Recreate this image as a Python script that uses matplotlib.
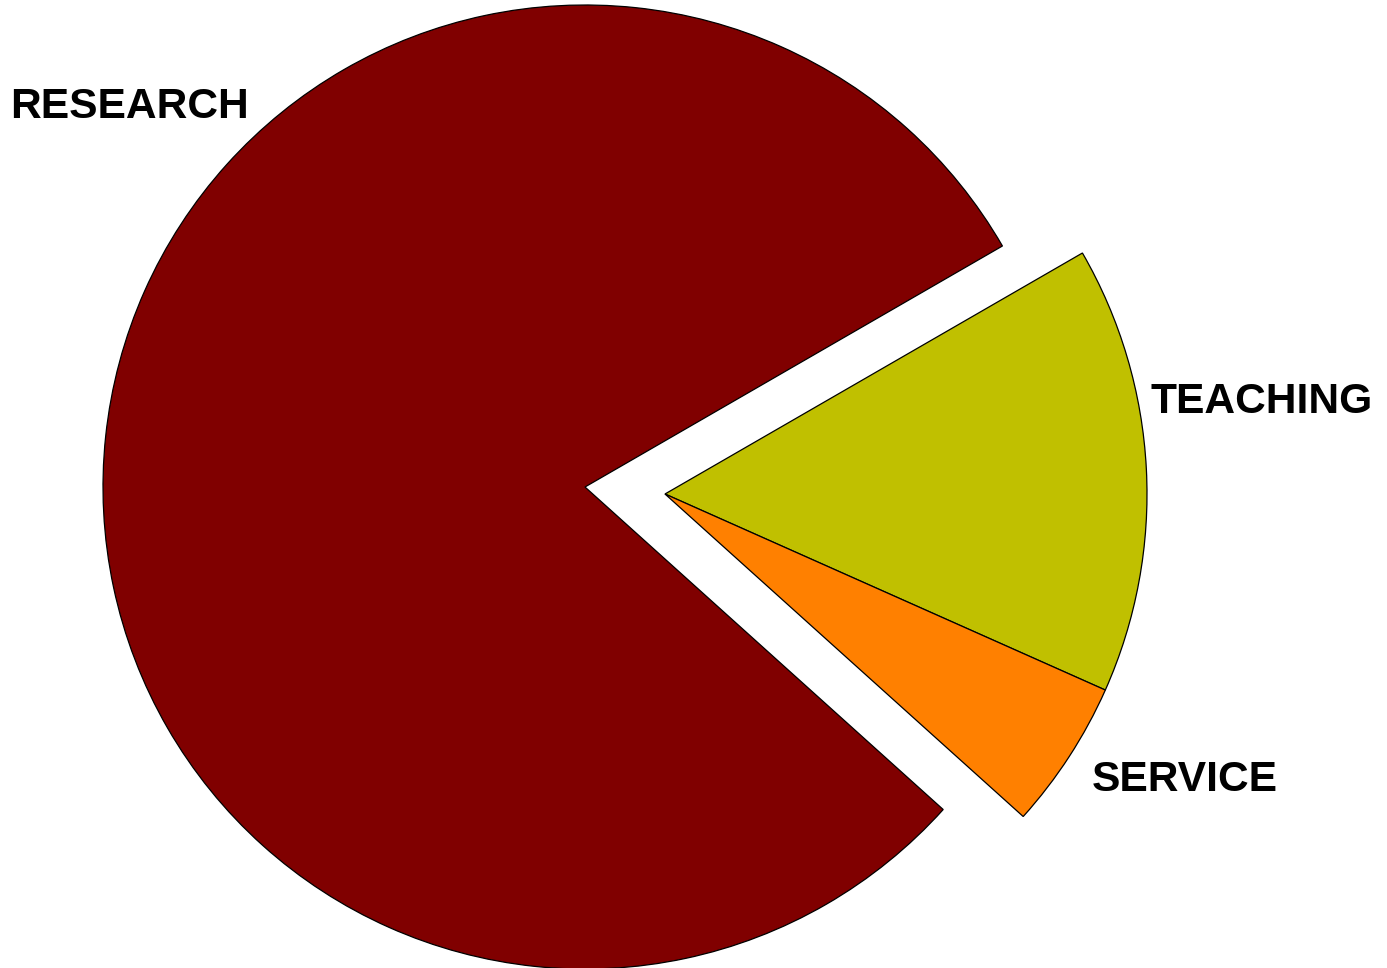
import matplotlib
matplotlib.use('Agg')
import matplotlib.pyplot as plt

# slice order: clockwise from the 30 degree mark
labels = ['TEACHING', 'SERVICE', 'RESEARCH']
shares = [15, 5, 80]
colors = ['#C0C000', '#FF8000', '#800000']
pulled = [True, True, False]  # teaching + service pulled out together

# pixel layout of the reference (px per unit radius = 482)
scale = 482.0
cx, cy = 585.0, 487.0
shift = (80.0 / scale, -7.0 / scale)

fig = plt.figure(figsize=(13.87, 9.68), dpi=100)
ax = fig.add_axes([0, 0, 1, 1])

def draw(center, show):
    wedges, _ = ax.pie(shares, colors=colors, startangle=30, counterclock=False,
                       radius=1.0, center=center,
                       wedgeprops=dict(edgecolor='black', linewidth=0.9))
    for w, s in zip(wedges, show):
        w.set_visible(s)

draw((0, 0), [not p for p in pulled])
draw(shift, pulled)

label_pos = {'RESEARCH': (130, 107), 'TEACHING': (1262, 402), 'SERVICE': (1185, 780)}
for name in labels:
    px, py = label_pos[name]
    ax.text((px - cx) / scale, (cy - py) / scale, name, ha='center', va='center',
            fontsize=30.6, fontweight='bold', family='Liberation Sans')

ax.set_xlim(-cx / scale, (1387 - cx) / scale)
ax.set_ylim(-(968 - cy) / scale, cy / scale)
ax.set_aspect('auto')
ax.axis('off')

fig.savefig('out.png', dpi=100)
